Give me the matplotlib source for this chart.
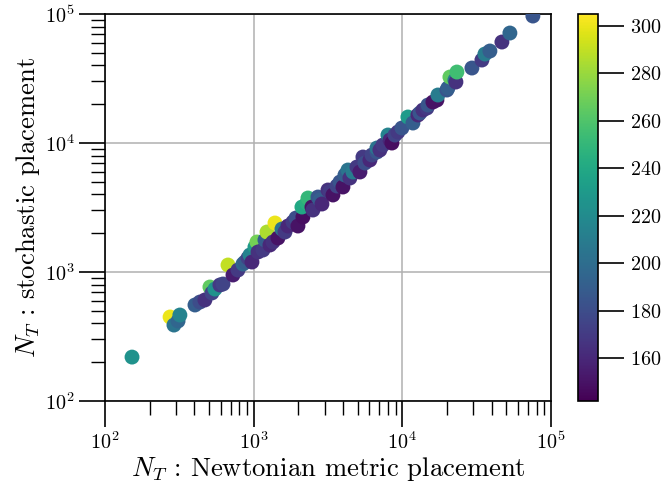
import matplotlib
matplotlib.use("Agg")
import matplotlib.pyplot as plt
import numpy as np

# N_T with Newtonian metric placement
x_newton = [152, 274, 291, 310, 319, 403, 435, 470, 508, 524, 549, 593, 622, 672, 726,
            784, 847, 874, 916, 944, 974, 1020, 1052, 1069, 1155, 1191, 1229, 1287, 1348,
            1391, 1457, 1550, 1624, 1701, 1838, 1925, 1986, 2145, 2112, 2283, 2319, 2467,
            2505, 2707, 2792, 2880, 3160, 3260, 3415, 3633, 3806, 3986, 4111, 4307, 4442,
            4654, 4951, 5187, 5433, 5604, 6054, 6245, 6748, 6748, 7069, 7405, 8003, 8254,
            8513, 8918, 9342, 9938, 10905, 11786, 12735, 13135, 13759, 14635, 14864, 16064,
            17088, 17355, 19949, 20264, 20900, 22580, 22935, 23290, 29390, 34300, 35940,
            38830, 46760, 52920, 75550]
# N_T with stochastic placement
y_stoch = [219, 448, 388, 417, 464, 555, 585, 607, 765, 688, 738, 793, 807, 1133, 948,
           1036, 1153, 1195, 1284, 1355, 1195, 1562, 1709, 1429, 1481, 1771, 2042, 1619,
           1709, 2398, 1835, 2154, 2042, 2273, 2441, 2621, 2273, 2669, 3190, 3427, 3746,
           3190, 3024, 3813, 3614, 3367, 4322, 4171, 3954, 4642, 4985, 4560, 5648, 6176,
           5353, 5960, 6516, 5960, 7790, 6998, 7383, 8072, 8516, 9147, 8826, 9650, 11535,
           10551, 10000, 11535, 12168, 13073, 15910, 14290, 16487, 17085, 18025, 18670,
           19700, 20790, 21540, 23560, 25760, 26700, 32480, 30790, 29720, 35510, 38150,
           44000, 48970, 51680, 60680, 71240, 96500]
# colour value
c_val = [225, 300, 205, 195, 215, 190, 180, 165, 265, 175, 225, 170, 175, 290, 155,
         170, 195, 190, 175, 215, 160, 230, 270, 165, 170, 190, 285, 160, 165, 300, 150,
         205, 170, 160, 170, 180, 150, 148, 240, 245, 250, 150, 165, 185, 190, 160, 165,
         170, 150, 175, 185, 150, 190, 205, 165, 210, 170, 155, 170, 180, 160, 175, 185,
         205, 165, 170, 215, 160, 148, 175, 170, 185, 230, 190, 160, 185, 165, 170, 185,
         150, 150, 210, 185, 190, 265, 210, 165, 255, 185, 170, 210, 190, 165, 195, 185]

cb_ticks = [160, 180, 200, 220, 240, 260, 280, 300]

plt.rcParams['font.family'] = 'serif'
plt.rcParams['font.serif'] = ['cmr10', 'DejaVu Serif']
plt.rcParams['mathtext.fontset'] = 'cm'
plt.rcParams['axes.formatter.use_mathtext'] = True
for a in ('xtick', 'ytick'):
    plt.rcParams[a + '.major.size'] = 19
    plt.rcParams[a + '.minor.size'] = 10
    plt.rcParams[a + '.major.width'] = 1.2
    plt.rcParams[a + '.minor.width'] = 1.0
    plt.rcParams[a + '.labelsize'] = 14.5
    plt.rcParams[a + '.direction'] = 'out'
plt.rcParams['xtick.major.pad'] = 3
plt.rcParams['ytick.major.pad'] = 3

fig = plt.figure(figsize=(6.62, 4.84), dpi=100)
ax = fig.add_axes([0.1586, 0.1715, 0.8323 - 0.1586, 0.971 - 0.1715])
cax = fig.add_axes([0.873, 0.1715, 0.030, 0.971 - 0.1715])

sc = ax.scatter(x_newton, y_stoch, c=c_val, cmap='viridis', vmin=142, vmax=305,
                s=115, linewidths=0, zorder=3)
ax.set_xscale('log')
ax.set_yscale('log')
ax.set_xlim(1e2, 1e5)
ax.set_ylim(1e2, 1e5)
ax.grid(True, which='major', color='#b0b0b0', linewidth=1.1, zorder=0)

for sp in ax.spines.values():
    sp.set_linewidth(1.2)

ax.set_xlabel(r'$N_T$ : Newtonian metric placement', fontsize=19.2, labelpad=1)
ax.set_ylabel(r'$N_T$ : stochastic placement', fontsize=19.2, labelpad=2)

cb = fig.colorbar(sc, cax=cax)
cb.set_ticks(cb_ticks)
cb.ax.minorticks_off()
cb.outline.set_linewidth(1.2)
cb.ax.tick_params(which='major', length=19, width=1.2, pad=4)

fig.savefig('out.png', dpi=100)
